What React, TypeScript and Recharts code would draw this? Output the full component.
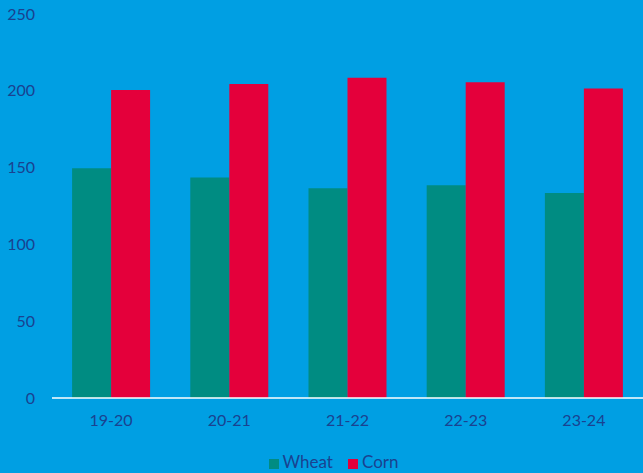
import { BarChart, Bar, XAxis, YAxis, Legend } from "recharts";

const seasons = ["19-20", "20-21", "21-22", "22-23", "23-24"];
const wheat = [149.5, 143.5, 136.5, 138.5, 133.5];
const corn = [200.5, 204.5, 208.5, 205.5, 201.5];
const yTicks = [0, 50, 100, 150, 200, 250];

const data = seasons.map((season, i) => ({
  season,
  Wheat: wheat[i],
  Corn: corn[i],
}));

const series = [
  { key: "Wheat", color: "#008c82" },
  { key: "Corn", color: "#e4003b" },
];

const textColor = "#1a4290";
const font = "Lato, 'Open Sans', sans-serif";

const LegendContent = () => (
  <div
    style={{
      display: "flex",
      justifyContent: "center",
      gap: 15,
      paddingLeft: 24,
      paddingTop: 2,
      fontFamily: font,
      fontSize: 17,
      color: textColor,
      lineHeight: "20px",
    }}
  >
    {series.map((s) => (
      <span key={s.key} style={{ display: "flex", alignItems: "center" }}>
        <span
          style={{
            display: "inline-block",
            width: 10,
            height: 10,
            background: s.color,
            marginRight: 4,
            marginTop: 3,
          }}
        />
        {s.key}
      </span>
    ))}
  </div>
);

export default function App() {
  return (
    <div
      style={{
        position: "fixed",
        top: 0,
        left: 0,
        width: 643,
        height: 473,
        background: "#009fe3",
        fontFamily: font,
      }}
    >
      <BarChart
        width={643}
        height={473}
        data={data}
        margin={{ top: 14, right: 0, bottom: 1, left: 0 }}
        barCategoryGap="17%"
        barGap={0}
      >
        <XAxis
          dataKey="season"
          axisLine={{ stroke: "#ffffff", strokeWidth: 1.5 }}
          tickLine={false}
          tickSize={0}
          tickMargin={17}
          height={52}
          tick={{ fill: textColor, fontSize: 16, fontFamily: font }}
        />
        <YAxis
          domain={[0, 250]}
          ticks={yTicks}
          axisLine={false}
          tickLine={false}
          tickSize={0}
          tickMargin={17}
          width={52}
          interval={0}
          tick={{ fill: textColor, fontSize: 16, fontFamily: font }}
        />
        <Legend verticalAlign="bottom" content={<LegendContent />} />
        {series.map((s) => (
          <Bar key={s.key} dataKey={s.key} fill={s.color} isAnimationActive={false} />
        ))}
      </BarChart>
    </div>
  );
}
